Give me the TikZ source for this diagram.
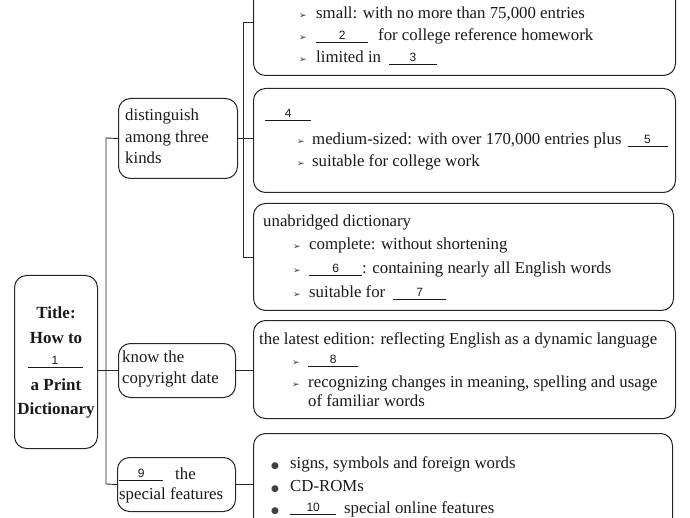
\documentclass[tikz,border=0pt]{standalone}
\usepackage{fontspec}
\setmainfont{Liberation Serif}
\setsansfont{Liberation Sans}
\newfontfamily\symfont{DejaVu Sans}
\newcommand\blankfill[2]{\underline{\makebox[#1][c]{\raisebox{1.5pt}{\sffamily\fontsize{12}{12}\selectfont #2}}}}
\newcommand\arr{{\symfont\fontsize{9}{9}\selectfont ➢}}
\newcommand\bul{{\symfont\fontsize{9}{9}\selectfont\color{black!75}●}}
\begin{document}
\begin{tikzpicture}[x=1pt,y=-1pt,
  box/.style={draw=black!85, line width=1pt, rounded corners=12pt, inner sep=0pt, anchor=north west},
  wire/.style={draw=black!85, line width=0.9pt},
  txt/.style={anchor=base west, inner sep=0pt, font=\fontsize{16.8}{20}\selectfont, text=black!90},
  ttl/.style={anchor=base, inner sep=0pt, font=\fontsize{17}{20}\selectfont\bfseries, text=black!90},
  mk/.style={anchor=base west, inner sep=0pt, text=black!80}]
\useasboundingbox (0,0) rectangle (690,518);
% boxes
\node[box, minimum width=83pt, minimum height=173pt] (title) at (14,275) {};
\node[box, minimum width=119pt, minimum height=80pt] (dist) at (118,98) {};
\node[box, minimum width=117pt, minimum height=54pt] (know) at (118,343) {};
\node[box, minimum width=118pt, minimum height=54pt] (spec) at (117,457) {};
\node[box, minimum width=422pt, minimum height=105pt] (b1) at (253,-30) {};
\node[box, minimum width=422pt, minimum height=104pt] (b2) at (253,88) {};
\node[box, minimum width=420pt, minimum height=107pt] (b3) at (253,203) {};
\node[box, minimum width=422pt, minimum height=98pt] (b4) at (253,320) {};
\node[box, minimum width=419pt, minimum height=130pt] (b5) at (253,433) {};
% connectors
\coordinate (j1) at (106,138);
\coordinate (j2) at (106,484);
\coordinate (k1) at (243,22);
\coordinate (k2) at (243,257);
\draw[wire] (dist.west) -- (j1) -- (j2) -- (spec.west);
\draw[wire] (title.east |- know.west) -- (know.west);
\draw[wire] (dist.east) -- (dist.east -| b2.west);
\draw[wire] (b3.west |- k2) -- (k2) -- (k1) -- (b1.west |- k1);
\draw[wire] (know.east) -- (know.east -| b4.west);
\draw[wire] (spec.east) -- (spec.east -| b5.west);
% title text
\node[ttl] (ti1) at (56,319) {Title:};
\node[ttl] (ti2) at (56,343) {How to};
\node[ttl, font=\mdseries] (ti3) at (55,366) {\blankfill{55pt}{1}};
\node[ttl] (ti4) at (56,390) {a Print};
\node[ttl] (ti5) at (56,414) {Dictionary};
% distinguish
\node[txt] (d1) at (125,121) {distinguish};
\node[txt] (d2) at (125,143) {among three};
\node[txt] (d3) at (125,164) {kinds};
% know
\node[txt] (n1) at (122,362) {know the};
\node[txt] (n2) at (122,383) {copyright date};
% special
\node[txt] (s1) at (119,479) {\blankfill{44pt}{9}\hspace{12pt}the};
\node[txt] (s2) at (119,499) {special features};
% box 1
\node[mk] (a11) at (299,19) {\arr};
\node[txt] (t11) at (316,19) {small: with no more than 75,000 entries};
\node[mk] (a12) at (299,41) {\arr};
\node[txt] (t12) at (316,41) {\blankfill{52pt}{2}\hspace{10pt}for college reference homework};
\node[mk] (a13) at (299,63) {\arr};
\node[txt] (t13) at (316,63) {limited in\hspace{8pt}\blankfill{48pt}{3}};
% box 2
\node[txt] (t20) at (265,119) {\blankfill{46pt}{4}};
\node[mk] (a21) at (297,145) {\arr};
\node[txt] (t21) at (312,145) {medium-sized: with over 170,000 entries plus\hspace{6pt}\blankfill{40pt}{5}};
\node[mk] (a22) at (297,167) {\arr};
\node[txt] (t22) at (312,167) {suitable for college work};
% box 3
\node[txt] (t30) at (263,227) {unabridged dictionary};
\node[mk] (a31) at (293,250) {\arr};
\node[txt] (t31) at (309,250) {complete: without shortening};
\node[mk] (a32) at (293,274) {\arr};
\node[txt] (t32) at (309,274) {\blankfill{53pt}{6}: containing nearly all English words};
\node[mk] (a33) at (293,298) {\arr};
\node[txt] (t33) at (309,298) {suitable for\hspace{8pt}\blankfill{53pt}{7}};
% box 4
\node[txt] (t40) at (259,344) {the latest edition: reflecting English as a dynamic language};
\node[mk] (a41) at (292,365) {\arr};
\node[txt] (t41) at (308,365) {\blankfill{50pt}{8}};
\node[mk] (a42) at (292,387) {\arr};
\node[txt] (t42) at (308,387) {recognizing changes in meaning, spelling and usage};
\node[txt] (t43) at (308,406) {of familiar words};
% box 5
\node[mk] (p51) at (271,468) {\bul};
\node[txt] (t51) at (290,468) {signs, symbols and foreign words};
\node[mk] (p52) at (271,491) {\bul};
\node[txt] (t52) at (290,491) {CD-ROMs};
\node[mk] (p53) at (271,513) {\bul};
\node[txt] (t53) at (290,513) {\blankfill{46pt}{10}\hspace{8pt}special online features};
\end{tikzpicture}
\end{document}
